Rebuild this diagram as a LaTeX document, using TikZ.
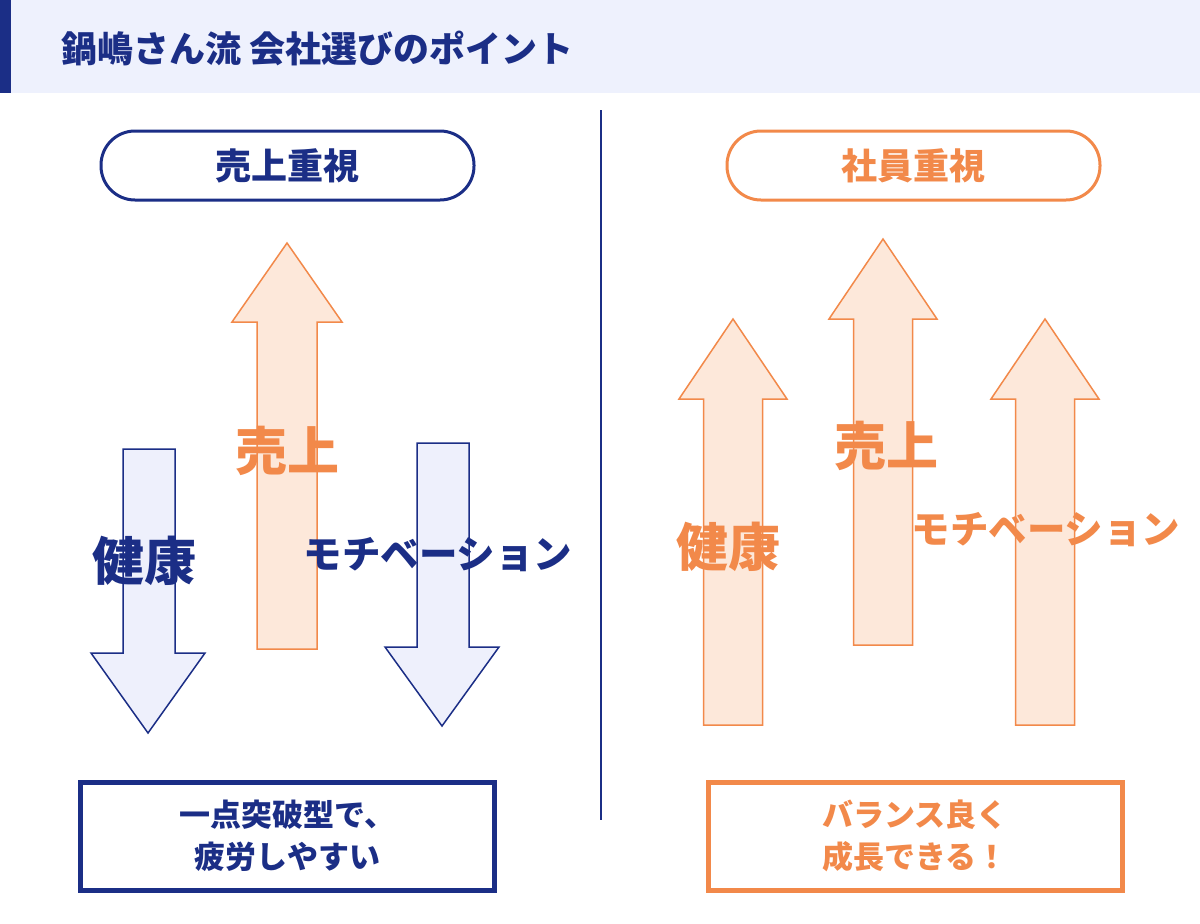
\documentclass[tikz,border=0pt]{standalone}
\usepackage{fontspec}
\setmainfont{Noto Sans CJK JP}
\usetikzlibrary{positioning}

\definecolor{navy}{RGB}{27,46,134}
\definecolor{navyfill}{RGB}{238,240,252}
\definecolor{orng}{RGB}{242,137,74}
\definecolor{orngfill}{RGB}{253,232,218}
\definecolor{headbg}{RGB}{238,241,253}

\begin{document}
\begin{tikzpicture}[x=1pt, y=-1pt,
    pill/.style={draw, line width=3pt, rounded corners=34pt, minimum width=373pt, minimum height=69pt, font=\fontsize{36}{40}\selectfont\bfseries},
    resbox/.style={draw, line width=5pt, minimum width=414pt, minimum height=108pt, align=center, font=\fontsize{31}{42}\selectfont\bfseries},
    biglabel/.style={font=\fontsize{52}{55}\selectfont\bfseries, inner sep=0pt},
    motlabel/.style={font=\fontsize{38.5}{41}\selectfont\bfseries, inner sep=0pt},
    uparrow/.style={draw=orng, fill=orngfill, line width=1.5pt, line join=miter},
    downarrow/.style={draw=navy, fill=navyfill, line width=1.5pt, line join=miter}]
    \useasboundingbox (0,0) rectangle (1200,924);
    \fill[white] (0,0) rectangle (1200,924);

    % Header
    \fill[headbg] (0,0) rectangle (1200,93);
    \fill[navy] (0,0) rectangle (11,93);
    \node[anchor=west, text=navy, font=\fontsize{36}{39}\selectfont\bfseries] (title) at (58,48) {鍋嶋さん流 会社選びのポイント};

    % Divider
    \coordinate (divtop) at (601,110);
    \coordinate (divbot) at (601,820);
    \draw[navy, line width=2pt] (divtop) -- (divbot);

    % Left side: sales first
    \node[pill, draw=navy, text=navy] (salespill) at (287.5,165.5) {売上重視};

    \draw[uparrow] (287,243) -- (342,322) -- (317,322) -- (317,649) -- (257,649) -- (257,322) -- (232,322) -- cycle;
    \draw[downarrow] (123,449) -- (175,449) -- (175,653) -- (205,653) -- (148,733) -- (91,653) -- (123,653) -- cycle;
    \draw[downarrow] (417,443) -- (469,443) -- (469,647) -- (499,647) -- (442,726) -- (385,647) -- (417,647) -- cycle;

    \node[biglabel, text=orng] (lsales) at (287,451) {売上};
    \node[biglabel, text=navy] (lhealth) at (144,561) {健康};
    \node[motlabel, text=navy] (lmotiv) at (438,555) {モチベーション};

    \node[resbox, draw=navy, text=navy] (lresult) at (287.5,836) {一点突破型で、\\疲労しやすい};

    % Right side: employees first
    \node[pill, draw=orng, text=orng] (staffpill) at (913.5,165.5) {社員重視};

    \foreach \cx/\tip/\bot in {733/319/725, 883/239/645, 1045/319/725}
        \draw[uparrow] (\cx,\tip) -- (\cx+54,\tip+80) -- (\cx+29.5,\tip+80) -- (\cx+29.5,\bot)
            -- (\cx-29.5,\bot) -- (\cx-29.5,\tip+80) -- (\cx-54,\tip+80) -- cycle;

    \node[biglabel, text=orng] (rhealth) at (728,547) {健康};
    \node[biglabel, text=orng] (rsales) at (886,446) {売上};
    \node[motlabel, text=orng] (rmotiv) at (1046,530) {モチベーション};

    \node[resbox, draw=orng, text=orng] (rresult) at (915,836) {バランス良く\\成長できる！};
\end{tikzpicture}
\end{document}
